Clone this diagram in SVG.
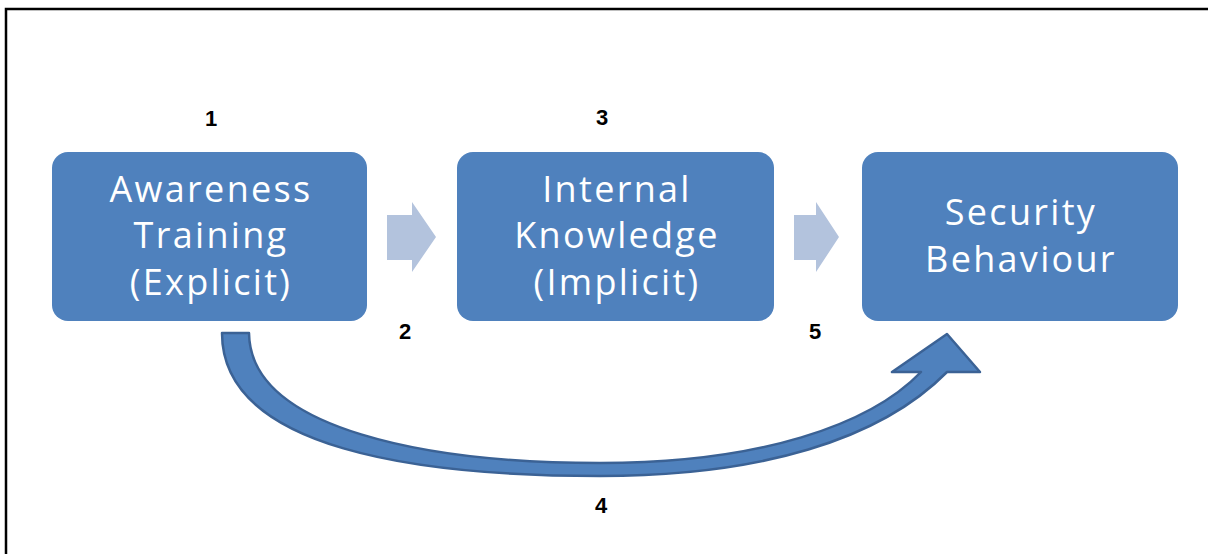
<svg xmlns="http://www.w3.org/2000/svg" width="1208" height="554" viewBox="0 0 1208 554">
<style>
.box{fill:#4f81bd;}
.lbl{font-family:"Open Sans","Liberation Sans",sans-serif;font-size:36px;fill:#ffffff;text-anchor:middle;letter-spacing:2.3px;}
.num{font-family:"Liberation Sans",Arial,sans-serif;font-size:22px;font-weight:bold;fill:#000000;text-anchor:middle;}
.step{fill:#b3c3dd;}
.curve{fill:#4f81bd;stroke:#3b6295;stroke-width:2.5;stroke-linejoin:round;}
</style>
<rect width="1208" height="554" fill="#ffffff"/>
<path d="M6,554 V9 H1208" fill="none" stroke="#000000" stroke-width="2.5"/>
<g id="node1">
<rect class="box" x="52" y="152" width="315" height="169" rx="16"/>
<text class="lbl" x="211" y="202">Awareness</text>
<text class="lbl" x="211" y="248">Training</text>
<text class="lbl" x="211" y="295">(Explicit)</text>
</g>
<g id="node2">
<rect class="box" x="457" y="152" width="317" height="169" rx="16"/>
<text class="lbl" x="617" y="202">Internal</text>
<text class="lbl" x="617" y="248">Knowledge</text>
<text class="lbl" x="617" y="295">(Implicit)</text>
</g>
<g id="node3">
<rect class="box" x="862" y="152" width="316" height="169" rx="16"/>
<text class="lbl" x="1021" y="225">Security</text>
<text class="lbl" x="1021" y="272">Behaviour</text>
</g>
<g id="connectors">
<path class="step" d="M387,215 H412 V202 L436,237 L412,272 V260 H387 Z"/>
<path class="step" d="M794,215 H816 V202 L839,237 L816,272 V260 H794 Z"/>
<path class="curve" d="M222,333 C222,450 420,476 600,476 C760,476 880,440 947,372 L980,372 L947,334 L892,372 L921,372 C870,425 760,463 600,463 C430,463 250,430 249,333 Z"/>
</g>
<g id="labels">
<text class="num" x="211" y="126">1</text>
<text class="num" x="602" y="125">3</text>
<text class="num" x="405" y="339">2</text>
<text class="num" x="815" y="339">5</text>
<text class="num" x="601" y="513">4</text>
</g>
</svg>
